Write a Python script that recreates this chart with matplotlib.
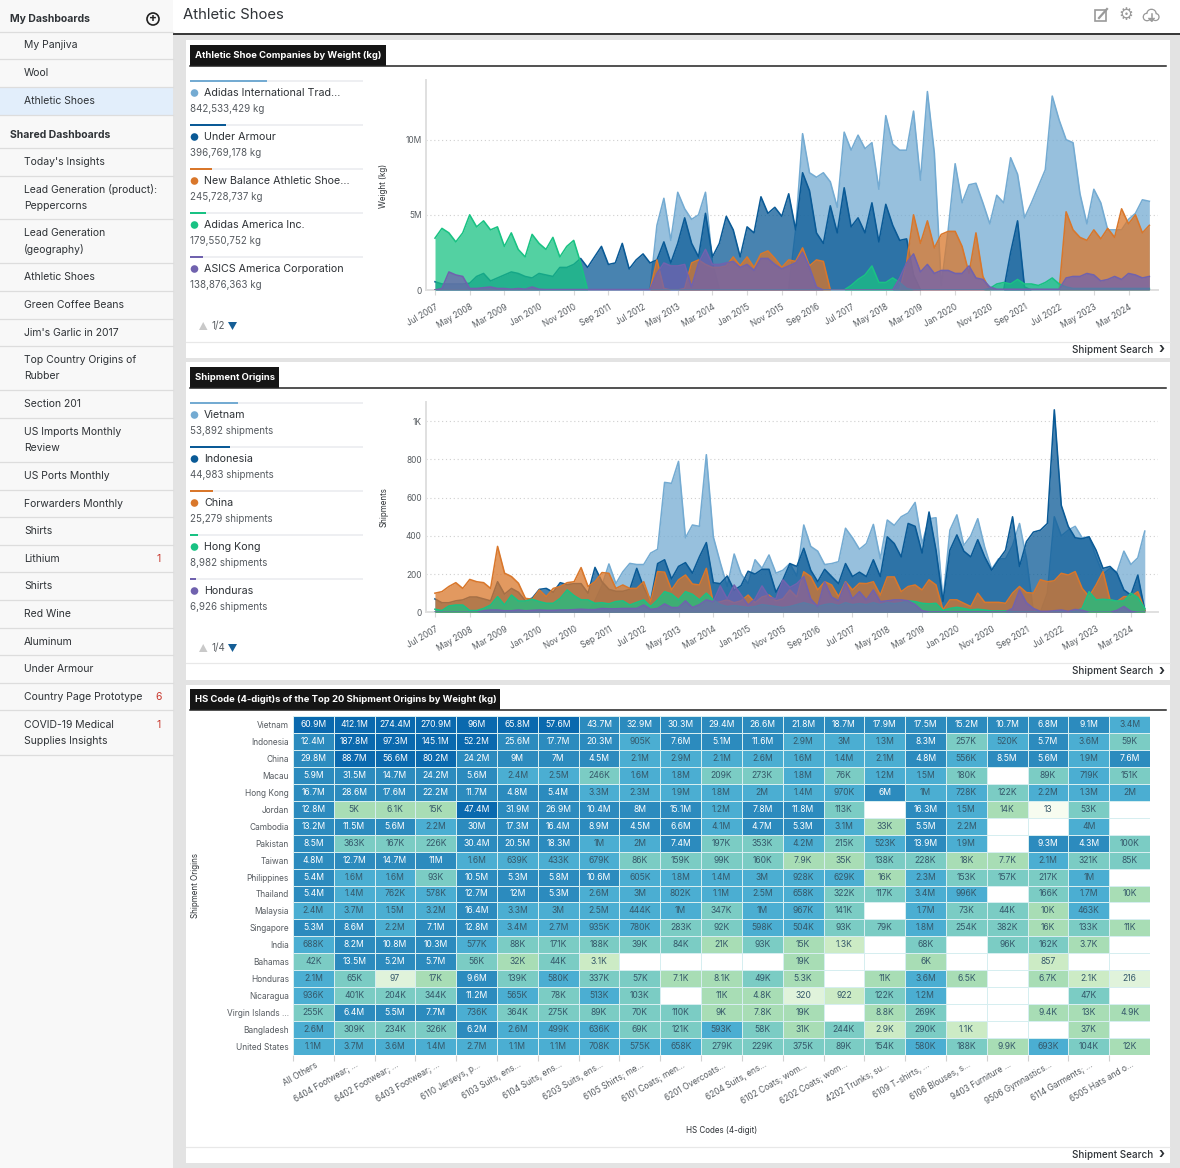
import numpy as np
import matplotlib
matplotlib.use("Agg")
import matplotlib.pyplot as plt
from matplotlib.colors import ListedColormap, BoundaryNorm
from matplotlib.patches import Rectangle, Circle, Polygon

plt.rcParams['font.family'] = ['Inter', 'DejaVu Sans']

W, H = 1180, 1168

# sidebar
my_items = ["My Panjiva", "Wool", "Athletic Shoes"]
shared_items = ["Today's Insights", "Lead Generation (product):\nPeppercorns", "Lead Generation\n(geography)",
                "Athletic Shoes", "Green Coffee Beans", "Jim's Garlic in 2017", "Top Country Origins of\nRubber",
                "Section 201", "US Imports Monthly\nReview", "US Ports Monthly", "Forwarders Monthly", "Shirts",
                "Lithium", "Shirts", "Red Wine", "Aluminum", "Under Armour", "Country Page Prototype",
                "COVID-19 Medical\nSupplies Insights"]
shared_badges = {"Lithium": "1", "Country Page Prototype": "6", "COVID-19 Medical\nSupplies Insights": "1"}

colors = ['#74ABD2', '#0A5A96', '#D9772B', '#19C283', '#7062AE']

# chart 1, millions of kg, one value every two months from Jul 2007
adidas_intl = [0]*32 + [4.3, 6.1, 3.3, 6.5, 5.4, 4.7, 5.0, 6.5, 1.8, 0] + [0]*10 + [
    4.0, 10.4, 7.8, 7.5, 7.8, 7.2, 5.5, 10.5, 9.3, 10.3,
    9.4, 9.8, 6.7, 11.6, 9.7, 9.3, 9.3, 11.9, 7.3, 13.2,
    9.1, 0.3, 4.0, 8.4, 5.8, 7.0, 7.1, 5.8, 4.4, 6.3,
    5.8, 8.8, 7.7, 4.8, 5.8, 6.9, 8.0, 12.9, 11.3, 10.0,
    9.8, 6.4, 4.4, 6.7, 5.8, 4.0, 4.0, 4.0, 4.7, 5.1, 6.0, 5.9]
under_armour = [0.55, 0.4, 0.4, 0.4, 0.4, 0.45, 0.9, 1.1, 0.6, 0.8,
    1.0, 1.2, 1.1, 0.9, 0.8, 1.1, 1.0, 0.9, 1.5, 1.5,
    1.7, 2.1, 1.5, 2.2, 2.9, 1.7, 1.8, 3.1, 1.4, 2.0,
    2.4, 1.8, 2.0, 3.2, 1.8, 3.1, 4.8, 3.1, 2.2, 5.1,
    2.2, 3.1, 4.9, 4.0, 2.2, 4.2, 3.8, 6.2, 5.1, 5.5,
    4.9, 6.4, 4.0, 7.8, 6.6, 3.8, 3.1, 5.6, 3.8, 6.8,
    4.2, 4.8, 3.8, 5.8, 3.2, 5.7, 4.3, 3.3, 3.4, 1.0] + [0]*13 + [2.5, 4.6, 0.2] + [0]*18
new_balance = [0]*32 + [2.0, 0.1, 0, 0, 0.1, 1.8, 2.0, 1.7, 1.5, 1.5,
    1.6, 2.2, 1.6, 2.2, 1.5, 2.4, 2.6, 2.1, 1.5, 2.0,
    1.9, 2.8, 1.6, 2.0, 1.9, 0] + [0]*10 + [1.8, 5.0, 3.1, 4.6, 2.8, 3.7, 3.9, 3.9, 2.9, 1.1, 3.8, 0.9] + [0]*11 + [
    5.2, 4.0, 3.5, 3.3, 4.0, 3.4, 4.1, 3.5, 5.4, 4.4, 5.0, 3.8, 4.3]
adidas_america = [3.45, 4.1, 3.8, 3.2, 3.8, 5.0, 4.2, 4.6, 4.0, 4.2,
    2.9, 3.8, 2.7, 2.2, 3.7, 3.1, 2.7, 3.5, 2.2, 2.9, 3.3, 1.8] + [0]*37 + [
    0, 0.3, 0.7, 1.0, 1.6, 0.5, 0.5, 0.8, 0.5, 0.1] + [0]*11 + [
    0.1, 0.4, 0.5, 0.4, 0.7, 0.4, 0.4, 0.3, 0.5, 0.8, 0.4, 0.2] + [0.1]*12
asics = [0, 0.1, 1.2, 1.0, 0.9, 0.1, 0.1, 0.15, 0.2, 0.1,
    0.1, 0.05, 0.1, 0.05, 0.2, 0.05] + [0.03]*16 + [
    1.1, 1.8, 1.6, 1.6, 1.7, 0.2, 1.8, 2.7, 1.7, 1.7,
    1.8, 1.9, 1.5, 1.7, 1.3, 2.1, 2.1, 1.7, 1.4, 1.6,
    1.8, 2.5, 1.5, 0.2] + [0]*11 + [
    0.8, 1.8, 2.4, 1.2, 1.7, 1.1, 1.3, 1.3, 1.1, 1.1, 1.6, 0.8, 0.7, 0.2] + [0.05]*10 + [
    0.8, 0.9, 0.9, 1.1, 1.0, 0.6, 0.7, 0.9, 0.7, 1.1, 1.0, 0.8, 0.9]

# chart 2, shipments, one value every two months from Jul 2007
vietnam = [0]*23 + [60, 140, 253, 150, 212, 256, 250, 250, 310, 330,
    680, 675, 790, 390, 457, 450, 825, 395, 260, 135,
    305, 200, 150, 275, 230, 300, 205, 220, 255, 190,
    457, 345, 320, 250, 255, 265, 440, 390, 330, 360,
    460, 280, 483, 455, 500, 520, 575, 360, 490, 495,
    60, 430, 510, 350, 400, 490, 340, 225, 280, 280,
    350, 465, 280, 0, 0, 100, 500, 400, 430, 450,
    390, 395, 290, 200, 230, 210, 320, 250, 285, 425]
indonesia = [70, 50, 50, 60, 65, 80, 80, 70, 60, 160,
    95, 125, 105, 60, 75, 120, 125, 105, 155, 145,
    150, 150, 100, 235, 160, 120, 110, 110, 120, 230,
    130, 60, 255, 275, 175, 240, 260, 205, 290, 365,
    155, 150, 190, 115, 140, 215, 200, 225, 225, 105,
    170, 255, 240, 335, 220, 160, 225, 187, 150, 255,
    187, 210, 187, 275, 187, 395, 360, 290, 465, 450,
    310, 525, 325, 56, 325, 405, 320, 290, 380, 290,
    220, 275, 325, 500, 240, 370, 420, 430, 465, 1060,
    560, 450, 390, 385, 395, 325, 230, 240, 205, 117,
    90, 195, 10]
china = [100, 108, 135, 155, 125, 172, 160, 155, 125, 345,
    205, 187, 152, 73, 68, 117, 82, 125, 135, 155,
    160, 234, 135, 160, 208, 204, 125, 143, 125, 125,
    160, 56, 213, 210, 117, 170, 195, 148, 143, 230,
    47, 55, 65, 50, 60, 90, 50, 80, 90, 60,
    70, 117, 80, 212, 187, 117, 160, 143, 82, 160,
    117, 152, 150, 160, 90, 185, 185, 108, 135, 143,
    117, 170, 143, 12, 65, 65, 47, 30, 100, 52,
    52, 52, 47, 100, 135, 103, 100, 170, 160, 165,
    204, 195, 213, 125, 82, 143, 213, 65, 56, 82,
    82, 108, 10]
hong_kong = [16, 9, 33, 38, 38, 9, 9, 20, 38, 82,
    38, 90, 59, 59, 68, 56, 47, 47, 73, 117,
    87, 65, 65, 47, 50, 44, 56, 60, 38, 52,
    65, 30, 65, 108, 96, 65, 108, 94, 65, 100,
    65, 40, 30, 35, 30, 25, 30, 40, 35, 30,
    25, 30, 40, 50, 40, 30, 40, 45, 35, 50,
    40, 45, 40, 50, 40, 50, 45, 50, 60, 56,
    47, 44, 47, 9, 20, 26, 20, 12, 16, 12,
    7, 7, 7, 3, 2, 2, 2, 2, 2, 2,
    2, 2, 5, 20, 108, 65, 68, 65, 59, 59,
    100, 77, 20]
honduras = [0, 0, 0, 0, 0, 0, 0, 8, 12, 12,
    8, 8, 12, 8, 10, 12, 10, 10, 12, 12,
    14, 16, 14, 14, 20, 18, 18, 20, 20, 20,
    38, 15, 20, 44, 25, 25, 60, 25, 40, 65,
    55, 138, 70, 143, 90, 38, 70, 138, 80, 70,
    170, 130, 150, 187, 70, 30, 160, 80, 60, 157,
    70, 108, 65, 117, 56, 60, 65, 65, 60, 40,
    8, 2, 2, 2, 2, 2, 2, 2, 2, 2,
    2, 2, 2, 20, 117, 50, 20, 5, 5, 8,
    12, 5, 15, 10, 0, 0, 0, 0, 10, 30,
    5, 0, 0]

series_weight = [adidas_intl, under_armour, new_balance, adidas_america, asics]
series_ship = [vietnam, indonesia, china, hong_kong, honduras]

date_labels = ["Jul 2007", "May 2008", "Mar 2009", "Jan 2010", "Nov 2010", "Sep 2011", "Jul 2012", "May 2013",
               "Mar 2014", "Jan 2015", "Nov 2015", "Sep 2016", "Jul 2017", "May 2018", "Mar 2019", "Jan 2020",
               "Nov 2020", "Sep 2021", "Jul 2022", "May 2023", "Mar 2024"]

weight_names = ["Adidas International Trad...", "Under Armour", "New Balance Athletic Shoe...",
                "Adidas America Inc.", "ASICS America Corporation"]
weight_totals = [842533429, 396769178, 245728737, 179550752, 138876363]
ship_names = ["Vietnam", "Indonesia", "China", "Hong Kong", "Honduras"]
ship_totals = [53892, 44983, 25279, 8982, 6926]

# heatmap
hs_codes = ["All Others", "6404 Footwear; ...", "6402 Footwear; ...", "6403 Footwear; ...", "6110 Jerseys, p...",
            "6103 Suits, ens...", "6104 Suits, ens...", "6203 Suits, ens...", "6105 Shirts; me...",
            "6101 Coats; men...", "6201 Overcoats...", "6204 Suits, ens...", "6102 Coats; wom...",
            "6202 Coats; wom...", "4202 Trunks; su...", "6109 T-shirts, ...", "6106 Blouses, s...",
            "9403 Furniture ...", "9506 Gymnastics...", "6114 Garments; ...", "6505 Hats and o..."]
origins = ["Vietnam", "Indonesia", "China", "Macau", "Hong Kong", "Jordan", "Cambodia", "Pakistan", "Taiwan",
           "Philippines", "Thailand", "Malaysia", "Singapore", "India", "Bahamas", "Honduras", "Nicaragua",
           "Virgin Islands ...", "Bangladesh", "United States"]
cells = """60.9M 412.1M 274.4M 270.9M 96M 65.8M 57.6M 43.7M 32.9M 30.3M 29.4M 26.6M 21.8M 18.7M 17.9M 17.5M 15.2M 10.7M 6.8M 9.1M 3.4M
12.4M 187.8M 97.3M 145.1M 52.2M 25.6M 17.7M 20.3M 905K 7.6M 5.1M 11.6M 2.9M 3M 1.3M 8.3M 257K 520K 5.7M 3.6M 59K
29.8M 88.7M 56.6M 80.2M 24.2M 9M 7M 4.5M 2.1M 2.9M 2.1M 2.6M 1.6M 1.4M 2.1M 4.8M 556K 8.5M 5.6M 1.9M 7.6M
5.9M 31.5M 14.7M 24.2M 5.6M 2.4M 2.5M 246K 1.6M 1.8M 209K 273K 1.8M 76K 1.2M 1.5M 180K - 89K 719K 151K
16.7M 28.6M 17.6M 22.2M 11.7M 4.8M 5.4M 3.3M 2.3M 1.9M 1.8M 2M 1.4M 970K 6M 1M 728K 122K 2.2M 1.3M 2M
12.8M 5K 6.1K 15K 47.4M 31.9M 26.9M 10.4M 8M 15.1M 1.2M 7.8M 11.8M 113K - 16.3M 1.5M 14K 13 53K -
13.2M 11.5M 5.6M 2.2M 30M 17.3M 16.4M 8.9M 4.5M 6.6M 4.1M 4.7M 5.3M 3.1M 33K 5.5M 2.2M - - 4M -
8.5M 363K 167K 226K 30.4M 20.5M 18.3M 1M 2M 7.4M 197K 353K 4.2M 215K 523K 13.9M 1.9M - 9.3M 4.3M 100K
4.8M 12.7M 14.7M 11M 1.6M 639K 433K 679K 86K 159K 99K 160K 7.9K 35K 138K 228K 18K 7.7K 2.1M 321K 85K
5.4M 1.6M 1.6M 93K 10.5M 5.3M 5.8M 10.6M 605K 1.8M 1.4M 3M 928K 629K 16K 2.3M 153K 157K 217K 1M -
5.4M 1.4M 762K 578K 12.7M 12M 5.3M 2.6M 3M 802K 1.1M 2.5M 658K 322K 117K 3.4M 996K - 166K 1.7M 10K
2.4M 3.7M 1.5M 3.2M 16.4M 3.3M 3M 2.5M 444K 1M 347K 1M 967K 141K - 1.7M 73K 44K 10K 463K -
5.3M 8.6M 2.2M 7.1M 12.8M 3.4M 2.7M 935K 780K 283K 92K 598K 504K 93K 79K 1.8M 254K 382K 16K 133K 11K
688K 8.2M 10.8M 10.3M 577K 88K 171K 188K 39K 84K 21K 93K 15K 1.3K - 68K - 96K 162K 3.7K -
42K 13.5M 5.2M 5.7M 56K 32K 44K 3.1K - - - - 19K - - 6K - - 857 - -
2.1M 65K 97 17K 9.6M 139K 580K 337K 57K 7.1K 8.1K 49K 5.3K - 11K 3.6M 6.5K - 6.7K 2.1K 216
936K 401K 204K 344K 11.2M 565K 78K 513K 103K - 11K 4.8K 320 922 122K 1.2M - - - 47K -
255K 6.4M 5.5M 7.7M 736K 364K 275K 89K 70K 110K 9K 7.8K 19K - 8.8K 269K - - 9.4K 13K 4.9K
2.6M 309K 234K 326K 6.2M 2.6M 499K 636K 69K 121K 593K 58K 31K 244K 2.9K 290K 1.1K - - 37K -
1.1M 3.7M 3.6M 1.4M 2.7M 1.1M 1.1M 708K 575K 658K 279K 229K 375K 89K 154K 580K 188K 9.9K 693K 104K 12K"""
cell_rows = [r.split() for r in cells.split("\n")]
heat_bounds = [0, 38, 380, 3500, 38000, 420000, 4250000, 45000000, 1e10]
heat_colors = ['#F7FCF0', '#E0F3DB', '#CCEBC5', '#A8DDB5', '#7BCCC4', '#4BAED2', '#2C8BBE', '#0A69AE']


def to_number(s):
    if s == '-':
        return np.nan
    if s[-1] == 'M':
        return float(s[:-1]) * 1e6
    if s[-1] == 'K':
        return float(s[:-1]) * 1e3
    return float(s)


def axes_px(x0, y0, x1, y1):
    return fig.add_axes([x0 / W, 1 - y1 / H, (x1 - x0) / W, (y1 - y0) / H])


fig = plt.figure(figsize=(W / 100, H / 100), dpi=100, facecolor='#E3E3E3')
bg = fig.add_axes([0, 0, 1, 1])
bg.set_xlim(0, W)
bg.set_ylim(H, 0)
bg.axis('off')

TXT = '#2E3236'
GREY = '#565B60'


def box(x0, y0, x1, y1, color, z=1):
    bg.add_patch(Rectangle((x0, y0), x1 - x0, y1 - y0, facecolor=color, edgecolor='none', zorder=z))


# page frame
box(0, 0, 173, H, '#F8F8F8')
box(173, 0, W, 33, 'white')
box(173, 32.5, W, 35, '#3A3A3A', 2)
bg.text(183, 15, "Athletic Shoes", fontsize=10.7, color=TXT, va='center')

# sidebar
box(0, 87, 173, 115, '#E2EEFB')
bg.text(10, 19, "My Dashboards", fontsize=7.5, fontweight='bold', color=TXT, va='center')
bg.add_patch(Circle((153, 19), 6, facecolor='none', edgecolor='#222222', lw=1.2, zorder=3))
bg.text(153, 18.6, "+", fontsize=8.5, fontweight='bold', color='#222222', ha='center', va='center', zorder=4)
bg.text(10, 135, "Shared Dashboards", fontsize=7.5, fontweight='bold', color=TXT, va='center')
my_lines = [32, 59, 87, 115]
for line_y in my_lines:
    bg.plot([0, 173], [line_y, line_y], color='#DDDDDD', lw=0.9, zorder=3)
my_text_y = [45.5, 73, 101]
for name, ty in zip(my_items, my_text_y):
    bg.text(24, ty, name, fontsize=7.5, color=TXT, va='center', zorder=4)
shared_lines = [148, 176, 219, 263, 291, 319, 346, 390, 418, 462, 490, 517, 545, 572, 600, 628, 655, 683, 710, 755]
for i, name in enumerate(shared_items):
    top, bot = shared_lines[i], shared_lines[i + 1]
    bg.plot([0, 173], [bot, bot], color='#DDDDDD', lw=0.9, zorder=3)
    bg.text(24, (top + bot) / 2 + 0.3, name, fontsize=7.5, color=TXT, va='center', linespacing=1.72, zorder=4)
    if name in shared_badges:
        first_y = (top + bot) / 2 - (8 if "\n" in name else 0)
        bg.text(159, first_y, shared_badges[name], fontsize=7.5, color='#C8372D', ha='center', va='center', zorder=4)
bg.plot([0, 173], [148, 148], color='#DDDDDD', lw=0.9, zorder=3)

# header icons
icon = '#9A9A9A'
bg.add_patch(Rectangle((1095, 10), 11, 11, facecolor='none', edgecolor=icon, lw=1.2, zorder=3))
bg.plot([1099, 1107], [18, 9], color=icon, lw=1.6, zorder=3)
bg.text(1125.5, 15.5, "\u2699", fontsize=12, color=icon, ha='center', va='center', family=['DejaVu Sans'])
for cx, cy, r in [(1147, 17, 3.6), (1151.5, 14, 4.6), (1155.5, 17, 3.4)]:
    bg.add_patch(Circle((cx, cy), r, facecolor='none', edgecolor=icon, lw=1.1, zorder=3))
for cx, cy, r in [(1147, 17, 3.0), (1151.5, 14, 4.0), (1155.5, 17, 2.8)]:
    bg.add_patch(Circle((cx, cy), r, facecolor='white', edgecolor='none', zorder=4))
bg.plot([1151.5, 1151.5], [14, 21], color=icon, lw=1.1, zorder=5)
bg.plot([1149, 1151.5, 1154], [18.5, 21, 18.5], color=icon, lw=1.1, zorder=5)

# panels
panels = [(40, 342, 358, 45, 386, 66, "Athletic Shoe Companies by Weight (kg)"),
          (362, 663, 680, 367, 279, 388, "Shipment Origins"),
          (685, 1147, 1162.5, 689, 500, 710, "HS Code (4-digit)s of the Top 20 Shipment Origins by Weight (kg)")]
for top, foot, bottom, tab_top, tab_right, rule, title in panels:
    box(186, top, 1170, bottom, 'white')
    bg.plot([186, 1170], [foot, foot], color='#E8E8E8', lw=0.9, zorder=2)
    box(190, tab_top, tab_right, rule, '#151515', 3)
    bg.plot([190, 1166], [rule, rule], color='#222222', lw=1.1, zorder=3)
    bg.text(195, (tab_top + rule) / 2, title, fontsize=6.8, fontweight='bold', color='white', va='center', zorder=4)
    bg.text(1153, (foot + bottom) / 2, "Shipment Search", fontsize=7.1, color=TXT, ha='right', va='center',
            fontweight='medium', zorder=4)
    bg.text(1161, (foot + bottom) / 2 - 0.5, "\u203A", fontsize=10, fontweight='bold', color=TXT, ha='center',
            va='center', zorder=4)


def draw_legend(names, totals, unit, y0, page):
    scale = (77 if unit == 'kg' else 48) / totals[0]
    for i, (name, total) in enumerate(zip(names, totals)):
        y = y0 + 44 * i
        box(190, y - 1, 363, y + 1, '#EEEFF2', 2)
        box(190, y - 1, 190 + total * scale, y + 1, colors[i], 3)
        bg.add_patch(Circle((194.5, y + 12), 3.8, facecolor=colors[i], edgecolor='none', zorder=3))
        bg.text(204, y + 12.5, name, fontsize=7.7, color=TXT, va='center', zorder=4)
        bg.text(190, y + 27.5, f"{total:,} {unit}", fontsize=7.0, color=GREY, va='center', zorder=4)
    py = y0 + 245
    bg.add_patch(Polygon([(199, py + 4), (207.5, py + 4), (203.2, py - 4)], facecolor='#C9C9C9', edgecolor='none', zorder=3))
    bg.text(218, py, page, fontsize=7.0, color=GREY, ha='center', va='center', zorder=4)
    bg.add_patch(Polygon([(228, py - 4), (237, py - 4), (232.5, py + 4)], facecolor='#155E96', edgecolor='none', zorder=3))


draw_legend(weight_names, weight_totals, 'kg', 81, "1/2")
draw_legend(ship_names, ship_totals, 'shipments', 403, "1/4")


def area_chart(rect, series, xlim, ylim, yticks, ylabels, yname, name_pos):
    ax = axes_px(*rect)
    ax.patch.set_alpha(0)
    for i, (vals, c) in enumerate(zip(series, colors)):
        vals = np.array(vals, dtype=float)
        months = np.arange(len(vals)) * 2
        # each layer covers the ones before it, lines included
        ax.fill_between(months, 0, vals, color=c, alpha=0.75, lw=0, zorder=2 + 2 * i)
        ax.plot(months, vals, color=c, lw=1.15, zorder=3 + 2 * i)
    ax.set_xlim(*xlim)
    ax.set_ylim(*ylim)
    ax.set_yticks(yticks)
    ax.set_yticklabels(ylabels, fontsize=6.0, color=GREY)
    ax.set_xticks(np.arange(len(date_labels)) * 10)
    ax.set_xticklabels(date_labels, fontsize=6.0, color=GREY, rotation=30, ha='right', rotation_mode='anchor')
    ax.tick_params(axis='y', length=0, pad=3)
    ax.tick_params(axis='x', length=3.5, color='#D8D8D8', width=0.8, pad=5.5)
    ax.grid(axis='y', linestyle=(0, (1, 2.5)), color='#CFCFCF', lw=0.8)
    ax.set_axisbelow(True)
    for s in ['top', 'right']:
        ax.spines[s].set_visible(False)
    ax.spines['left'].set_color('#E0E0E0')
    ax.spines['left'].set_linewidth(1.4)
    ax.spines['bottom'].set_color('#E0E0E0')
    ax.spines['bottom'].set_linewidth(1.4)
    bg.text(name_pos[0], name_pos[1], yname, fontsize=5.8, color=TXT, rotation=90, ha='center', va='center', zorder=4)
    return ax


area_chart((426, 80, 1158, 290), series_weight, (-2.6, 208.5), (0, 13.97), [0, 5, 10], ['0', '5M', '10M'],
           "Weight (kg)", (384, 186))
area_chart((426, 402, 1158, 612.3), series_ship, (-2.57, 207.8), (0, 1101), [0, 200, 400, 600, 800, 1000],
           ['0', '200', '400', '600', '800', '1K'], "Shipments", (384, 507))

# heatmap
values = np.array([[to_number(c) for c in row] for row in cell_rows])
hm = axes_px(293, 716, 1150, 1055)
hm.patch.set_alpha(0)
cmap = ListedColormap(heat_colors)
norm = BoundaryNorm(heat_bounds, cmap.N)
hm.pcolormesh(np.ma.masked_invalid(values), cmap=cmap, norm=norm, edgecolors='#D6EEF0', linewidth=0.7)
hm.set_xlim(0, len(hs_codes))
hm.set_ylim(len(origins), 0)
for r, row in enumerate(cell_rows):
    for c, label in enumerate(row):
        if label == '-':
            continue
        tc = 'white' if values[r, c] >= 4250000 else '#35586A'
        hm.text(c + 0.5, r + 0.5, label, fontsize=6.2, color=tc, ha='center', va='center')
hm.set_yticks(np.arange(len(origins)) + 0.5)
hm.set_yticklabels(origins, fontsize=6.0, color=GREY)
hm.tick_params(axis='y', length=0, pad=3)
hm.set_xticks(np.arange(len(hs_codes)))
hm.set_xticklabels([])
hm.tick_params(axis='x', length=4.5, color='#D0D0D0', width=0.8)
for i, code in enumerate(hs_codes):
    hm.annotate(code, (i + 0.5, len(origins)), xytext=(0.8, -3.8), textcoords='offset points', fontsize=6.0, color=GREY,
                rotation=30, ha='right', va='top', rotation_mode='anchor', annotation_clip=False)
for s in hm.spines.values():
    s.set_visible(False)
bg.text(195, 886, "Shipment Origins", fontsize=5.8, color=TXT, rotation=90, ha='center', va='center', zorder=4)
bg.text(722, 1130.5, "HS Codes (4-digit)", fontsize=5.8, color=TXT, ha='center', va='center', zorder=4)

fig.savefig('out.png', dpi=100, facecolor=fig.get_facecolor())
